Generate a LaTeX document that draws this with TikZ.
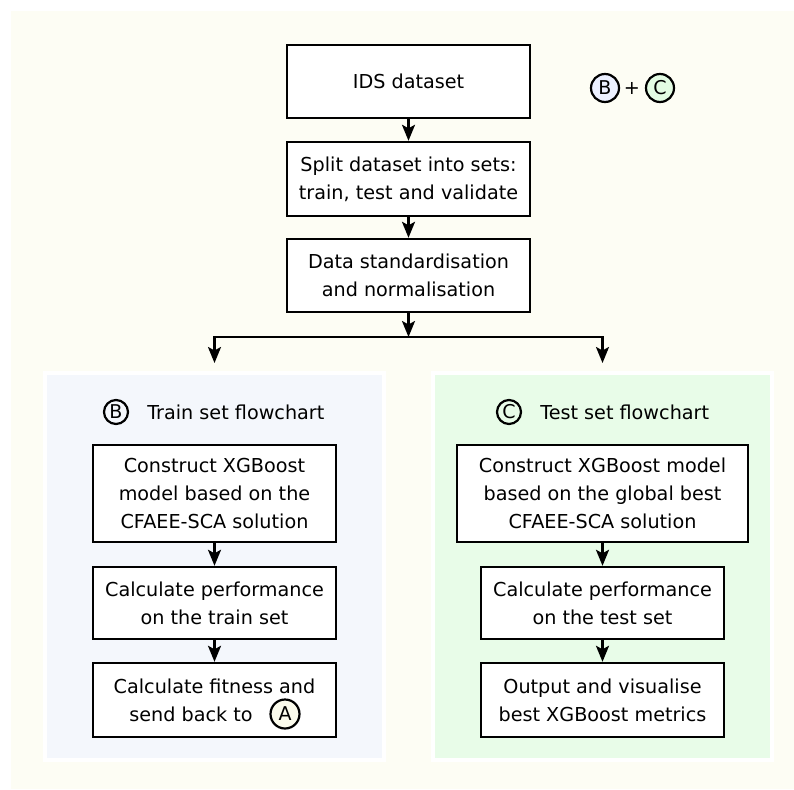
\documentclass[tikz,border=0pt]{standalone}
\usepackage{fontspec}
\setmainfont{DejaVu Sans}
\usetikzlibrary{arrows.meta,positioning}
\definecolor{ivorybg}{HTML}{FDFDF4}
\definecolor{trainblue}{HTML}{F4F7FC}
\definecolor{testgreen}{HTML}{E8FCE8}
\definecolor{bluetag}{HTML}{ECF0FF}
\definecolor{greentag}{HTML}{E3FCE3}
\definecolor{ivorytag}{HTML}{FBFBEC}
\begin{document}
\begin{tikzpicture}[x=1pt,y=-1pt,
    every node/.style={font=\fontsize{19.2}{27.7}\selectfont},
    stepbox/.style={draw, line width=2.4pt, fill=white, align=center,
      inner sep=0pt, minimum width=243pt, minimum height=73pt},
    flow/.style={line width=2.4pt, -{Stealth[length=16pt,width=13pt,inset=3.5pt]}},
    panel/.style={draw=white, line width=4pt, fill=#1, inner sep=0pt,
      minimum width=339pt, minimum height=387pt},
    circletag/.style={circle, draw, line width=2.2pt, inner sep=0pt,
      minimum size=#1, font=\fontsize{19}{20}\selectfont}]
    \useasboundingbox (0,0) rectangle (794,789);
    \fill[ivorybg] (11,11) rectangle (794,789);

    \node[stepbox] (ids) at (408.5,81.5) {IDS dataset};
    \node[stepbox, minimum height=74pt] (split) at (408.5,179) {Split dataset into sets:\\train, test and validate};
    \node[stepbox] (norm) at (408.5,275.5) {Data standardisation\\and normalisation};

    \node[circletag=28pt, fill=bluetag] (topb) at (605,88) {B};
    \node[inner sep=0pt] (plus) at (632,88) {+};
    \node[circletag=28pt, fill=greentag] (topc) at (660,88) {C};

    \coordinate (fork) at (408.5,337);
    \coordinate (inl) at (214.5,363);
    \coordinate (inr) at (602.5,363);

    \draw[flow] (ids) -- (split);
    \draw[flow] (split) -- (norm);
    \draw[flow] (norm) -- (fork);
    \draw[flow] (fork) -| (inl);
    \draw[flow] (fork) -| (inr);

    \node[panel=trainblue] (trainpanel) at (214.5,566.5) {};
    \node[panel=testgreen] (testpanel) at (602.5,566.5) {};

    \node[circletag=24pt] (trainb) at (116,412) {B};
    \node[right=18pt of trainb, inner sep=0pt] (traintitle) {Train set flowchart};
    \node[circletag=24pt] (testc) at (509,412) {C};
    \node[right=18pt of testc, inner sep=0pt] (testtitle) {Test set flowchart};

    \node[stepbox, minimum height=97pt] (trainmodel) at (214.5,493.5) {Construct XGBoost\\model based on the\\CFAEE-SCA solution};
    \node[stepbox, minimum height=72pt] (trainperf) at (214.5,603) {Calculate performance\\on the train set};
    \node[stepbox, minimum height=74pt] (fitness) at (214.5,700) {Calculate fitness and\\send back to\hspace*{47pt}};
    \node[circletag=29pt, fill=ivorytag] (backa) at (285,714) {A};

    \node[stepbox, minimum width=291pt, minimum height=97pt] (testmodel) at (602.5,493.5) {Construct XGBoost model\\based on the global best\\CFAEE-SCA solution};
    \node[stepbox, minimum height=72pt] (testperf) at (602.5,603) {Calculate performance\\on the test set};
    \node[stepbox, minimum height=74pt] (output) at (602.5,700) {Output and visualise\\best XGBoost metrics};

    \draw[flow] (trainmodel) -- (trainperf);
    \draw[flow] (trainperf) -- (fitness);
    \draw[flow] (testmodel) -- (testperf);
    \draw[flow] (testperf) -- (output);
\end{tikzpicture}
\end{document}
